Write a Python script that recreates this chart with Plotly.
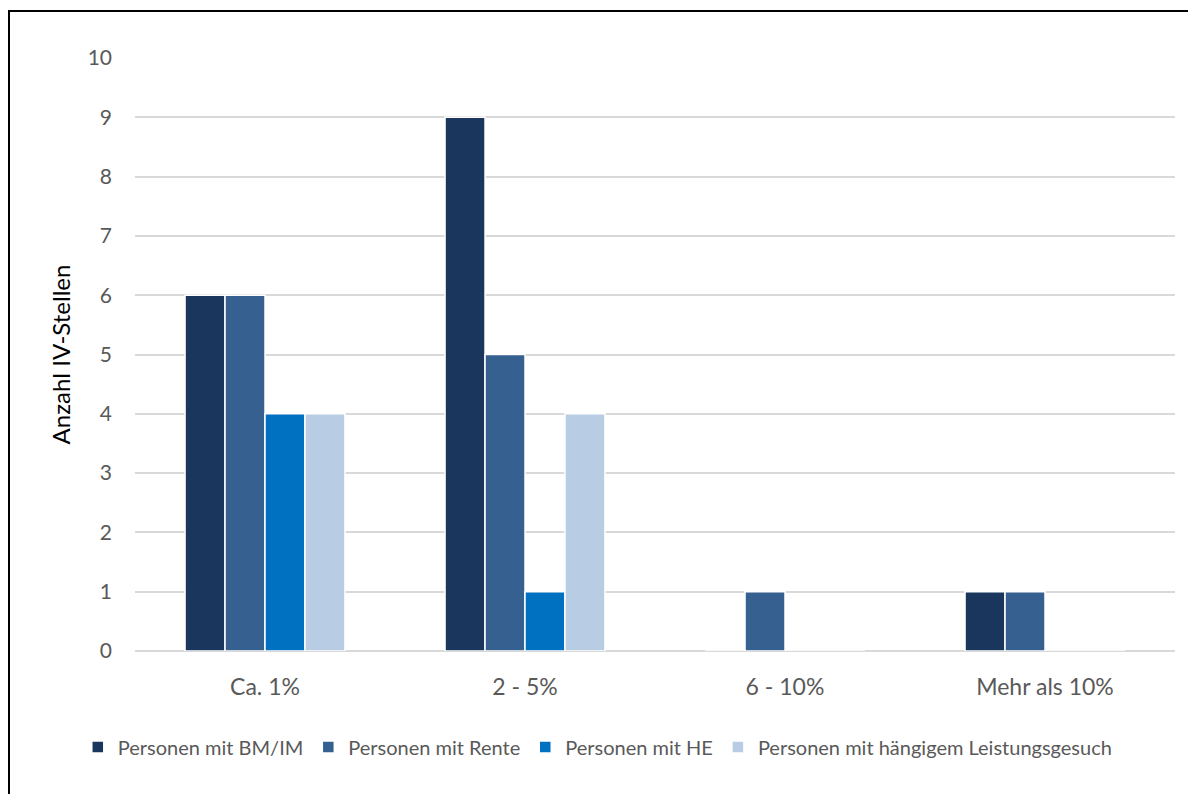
import plotly.graph_objects as go

categories = ["Ca. 1%", "2 - 5%", "6 - 10%", "Mehr als 10%"]
series_names = ["Personen mit BM/IM", "Personen mit Rente", "Personen mit HE",
                "Personen mit hängigem Leistungsgesuch"]
bm_im = [6, 9, 0, 1]
rente = [6, 5, 1, 1]
he = [4, 1, 0, 0]
haengig = [4, 4, 0, 0]
y_ticks = list(range(0, 11))

colors = ["#1a365d", "#36608f", "#0070c0", "#b8cce4"]
values = [bm_im, rente, he, haengig]

fig = go.Figure()
for name, vals, col in zip(series_names, values, colors):
    fig.add_trace(go.Bar(
        x=categories, y=vals, name=name,
        marker=dict(color=col, line=dict(color="white", width=1.5)),
    ))

# page body has an 8px margin; compensate
OFF = 8
W, H = 1196 - OFF, 794 - OFF
L, R, T, B = 135 - OFF, 21, 58 - OFF, 143
pw = W - L - R
ph = H - T - B

fig.update_layout(
    width=W, height=H,
    margin=dict(l=L, r=R, t=T, b=B, autoexpand=False),
    paper_bgcolor="white", plot_bgcolor="white",
    barmode="group", bargap=0.385, bargroupgap=0,
    font=dict(family="Lato, Open Sans, sans-serif", size=21, color="#595959"),
    showlegend=True,
    legend=dict(orientation="h", x=0.445, xanchor="center",
                y=(T + ph - (747 - OFF)) / ph, yanchor="middle",
                font=dict(size=20, color="#595959"),
                itemwidth=30, traceorder="normal"),
    xaxis=dict(showgrid=False, showline=False, ticks="",
               ticklabelstandoff=20,
               tickfont=dict(size=23, color="#595959")),
    yaxis=dict(range=[0, 10], tickvals=y_ticks, showgrid=True,
               gridcolor="#d9d9d9", gridwidth=1.5, zeroline=True,
               zerolinecolor="#d9d9d9", zerolinewidth=1.5,
               ticks="", ticklabelstandoff=22,
               tickfont=dict(size=21, color="#595959"),
               title=dict(text="Anzahl IV-Stellen", standoff=10,
                          font=dict(size=24, color="black"))),
    shapes=[dict(type="rect", xref="paper", yref="paper",
                 x0=(9 - OFF - L) / pw, x1=(W + 20 - L) / pw,
                 y0=(T + ph - (H + 20)) / ph, y1=(T + ph - (11 - OFF)) / ph,
                 line=dict(color="black", width=2), fillcolor="rgba(0,0,0,0)")],
)

fig.write_html("out.html")
